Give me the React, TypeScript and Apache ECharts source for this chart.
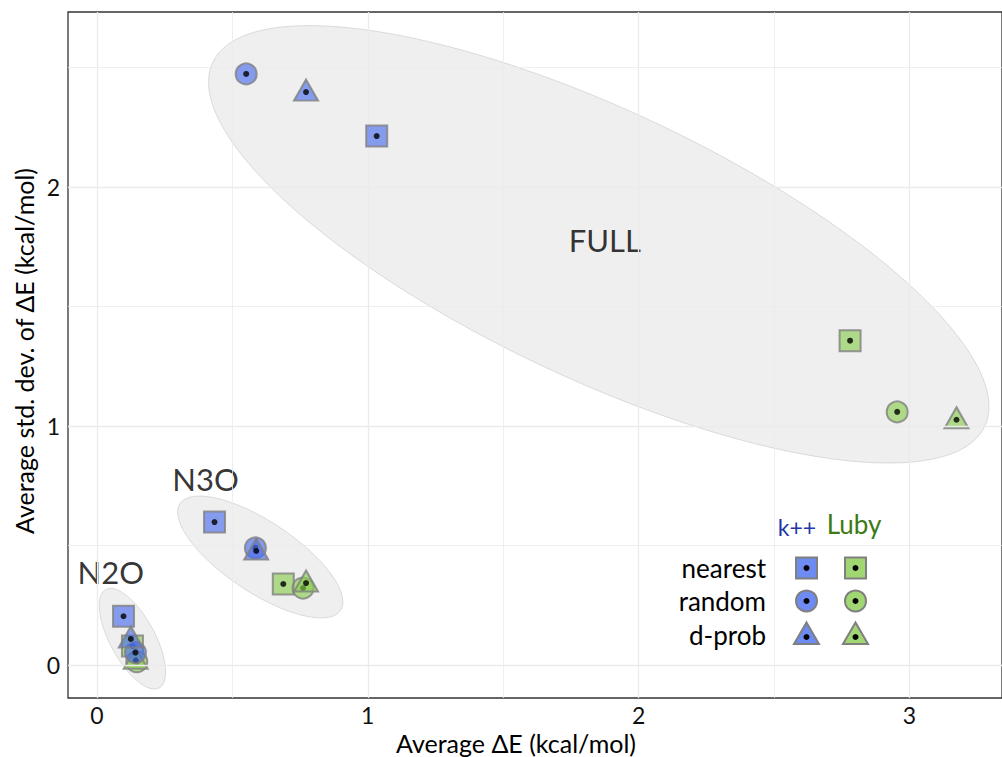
import React, { useEffect, useRef } from "react";
import * as echarts from "echarts";

// Groups: FULL, N3O, N2O
const groups = ["FULL", "N3O", "N2O"];

const kppNearestX = [1.033, 0.434, 0.098];
const kppNearestY = [2.213, 0.598, 0.204];
const kppRandomX = [0.551, 0.585, 0.142];
const kppRandomY = [2.473, 0.49, 0.052];
const kppDprobX = [0.772, 0.588, 0.125];
const kppDprobY = [2.397, 0.477, 0.109];

const lubyNearestX = [2.781, 0.688, 0.131];
const lubyNearestY = [1.357, 0.339, 0.08];
const lubyRandomX = [2.955, 0.761, 0.147];
const lubyRandomY = [1.059, 0.322, 0.014];
const lubyDprobX = [3.174, 0.772, 0.143];
const lubyDprobY = [1.026, 0.343, 0.02];

// Ellipses (data units): centre, half extents, correlation
const ellipseCx = [1.853, 0.603, 0.131];
const ellipseCy = [1.76, 0.452, 0.11];
const ellipseSx = [1.441, 0.305, 0.1224];
const ellipseSy = [0.915, 0.255, 0.2105];
const ellipseRho = [-0.742, -0.735, -0.66];

// Group label positions (data units)
const labelX = [1.875, 0.401, 0.051];
const labelY = [1.778, 0.778, 0.389];

const xMajor = [0, 1, 2, 3];
const xMinor = [0.5, 1.5, 2.5];
const yMajor = [0, 1, 2];
const yMinor = [0.5, 1.5, 2.5];

const xTitle = "Average ΔE (kcal/mol)";
const yTitle = "Average std. dev. of ΔE (kcal/mol)";
const legendRows = ["nearest", "random", "d-prob"];
const legendCols = ["k++", "Luby"];

const FONT = "Lato";
const BLUE = "rgba(74,110,238,0.8)";
const GREEN = "rgba(137,205,80,0.8)";
const BORDER = "#7f7f7f";

export default function App() {
  const ref = useRef<HTMLDivElement>(null);
  useEffect(() => {
    if (!ref.current) return;
    const chart = echarts.init(ref.current, undefined, { renderer: "svg" });

    const zip = (xs: number[], ys: number[]) => xs.map((x, i) => [x, ys[i]]);

    const markerSeries = (
      data: number[][],
      symbol: string,
      fill: string,
      z: number
    ) => {
      const isTri = symbol === "triangle";
      return [
        {
          type: "scatter",
          data,
          symbol,
          symbolSize: isTri ? [24, 21] : 21,
          symbolOffset: isTri ? [0, -2] : [0, 0],
          itemStyle: { color: fill, borderColor: BORDER, borderWidth: 2 },
          z,
          silent: true,
        },
        {
          type: "scatter",
          data,
          symbol: "circle",
          symbolSize: 6,
          itemStyle: { color: "#000" },
          z: z + 0.5,
          silent: true,
        },
      ];
    };

    const gridLines = [
      ...xMajor.map((v) => ({ xAxis: v, lineStyle: { color: "#ebebeb", width: 1.3, type: "solid" } })),
      ...xMinor.map((v) => ({ xAxis: v, lineStyle: { color: "#ebebeb", width: 0.8, type: "solid" } })),
      ...yMajor.map((v) => ({ yAxis: v, lineStyle: { color: "#ebebeb", width: 1.3, type: "solid" } })),
      ...yMinor.map((v) => ({ yAxis: v, lineStyle: { color: "#ebebeb", width: 0.8, type: "solid" } })),
    ];

    // legend graphics
    const colX = [806.5, 855.5];
    const rowY = [568, 601, 635];
    const colFill = [BLUE, GREEN];
    const legendEls: any[] = [];
    legendCols.forEach((c, ci) => {
      legendEls.push({
        type: "text",
        x: ci === 0 ? 797 : 854,
        y: ci === 0 ? 527 : 524,
        style: {
          text: c,
          fill: ci === 0 ? "#2536a8" : "#3d7a14",
          font: `${ci === 0 ? 23 : 26}px ${FONT}`,
          textAlign: "center",
          textVerticalAlign: "middle",
        },
      });
      rowY.forEach((ry, ri) => {
        const cx = colX[ci];
        const style = { fill: colFill[ci], stroke: BORDER, lineWidth: 2 };
        if (ri === 0) {
          legendEls.push({ type: "rect", shape: { x: cx - 10.5, y: ry - 10.5, width: 21, height: 21 }, style });
        } else if (ri === 1) {
          legendEls.push({ type: "circle", shape: { cx, cy: ry, r: 10.5 }, style });
        } else {
          legendEls.push({
            type: "polygon",
            shape: { points: [[cx, ry - 12.5], [cx + 12.5, ry + 9], [cx - 12.5, ry + 9]] },
            style,
          });
        }
        legendEls.push({ type: "circle", shape: { cx, cy: ri === 2 ? ry + 2 : ry, r: 3 }, style: { fill: "#000" } });
      });
    });
    legendRows.forEach((r, ri) => {
      legendEls.push({
        type: "text",
        x: 766,
        y: rowY[ri],
        style: { text: r, fill: "#000", font: `26px ${FONT}`, textAlign: "right", textVerticalAlign: "middle" },
      });
    });

    const option: any = {
      animation: false,
      backgroundColor: "#fff",
      grid: {
        left: 68,
        top: 12,
        right: -4,
        bottom: 59,
        show: true,
        borderColor: "#333",
        borderWidth: 1.3,
        backgroundColor: "transparent",
      },
      xAxis: {
        type: "value",
        min: -0.107,
        max: 3.342,
        splitLine: { show: false },
        axisLine: { show: false },
        axisTick: { show: true, customValues: xMajor, length: 4, lineStyle: { color: "#333", width: 1 } },
        axisLabel: { customValues: xMajor, fontSize: 23, color: "#111", fontFamily: FONT, margin: 5 },
      },
      yAxis: {
        type: "value",
        min: -0.138,
        max: 2.732,
        splitLine: { show: false },
        axisLine: { show: false },
        axisTick: { show: true, customValues: yMajor, length: 4, lineStyle: { color: "#333", width: 1 } },
        axisLabel: { customValues: yMajor, fontSize: 23, color: "#111", fontFamily: FONT, margin: 8 },
      },
      graphic: [
        {
          type: "text",
          x: 516,
          y: 743,
          style: { text: xTitle, fill: "#000", font: `25px ${FONT}`, textAlign: "center", textVerticalAlign: "middle" },
        },
        {
          type: "text",
          x: 24,
          y: 351,
          rotation: Math.PI / 2,
          style: { text: yTitle, fill: "#000", font: `25px ${FONT}`, textAlign: "center", textVerticalAlign: "middle" },
        },
        ...legendEls,
      ],
      series: [
        {
          type: "scatter",
          data: [],
          silent: true,
          z: 0,
          markLine: { silent: true, symbol: ["none", "none"], label: { show: false }, data: gridLines },
        },
        {
          type: "custom",
          z: 1,
          silent: true,
          data: ellipseCx.map((cx, i) => [cx, ellipseCy[i]]),
          renderItem: (params: any, api: any) => {
            const i = params.dataIndex;
            const pts: number[][] = [];
            const r = ellipseRho[i];
            const q = Math.sqrt(1 - r * r);
            for (let k = 0; k < 180; k++) {
              const t = (2 * Math.PI * k) / 180;
              const x = ellipseCx[i] + ellipseSx[i] * Math.cos(t);
              const y = ellipseCy[i] + ellipseSy[i] * (r * Math.cos(t) + q * Math.sin(t));
              pts.push(api.coord([x, y]));
            }
            return {
              type: "polygon",
              shape: { points: pts },
              style: { fill: "rgba(190,190,190,0.25)", stroke: "rgba(190,190,190,0.5)", lineWidth: 1 },
            };
          },
        },
        {
          type: "scatter",
          z: 1.5,
          silent: true,
          symbolSize: 0,
          data: groups.map((g, i) => ({ name: g, value: [labelX[i], labelY[i]] })),
          label: {
            show: true,
            position: "inside",
            formatter: (p: any) => p.name,
            fontSize: 31,
            fontFamily: FONT,
            color: "#000",
          },
        },
        ...markerSeries(zip(lubyNearestX, lubyNearestY), "rect", GREEN, 2),
        ...markerSeries(zip(lubyRandomX, lubyRandomY), "circle", GREEN, 3),
        ...markerSeries(zip(lubyDprobX, lubyDprobY), "triangle", GREEN, 4),
        ...markerSeries(zip(kppNearestX, kppNearestY), "rect", BLUE, 5),
        ...markerSeries(zip(kppRandomX, kppRandomY), "circle", BLUE, 6),
        ...markerSeries(zip(kppDprobX, kppDprobY), "triangle", BLUE, 7),
      ],
    };
    chart.setOption(option);
    return () => chart.dispose();
  }, []);
  return (
    <div
      ref={ref}
      style={{ position: "fixed", left: 0, top: 0, width: 1002, height: 757, background: "#fff" }}
    />
  );
}
